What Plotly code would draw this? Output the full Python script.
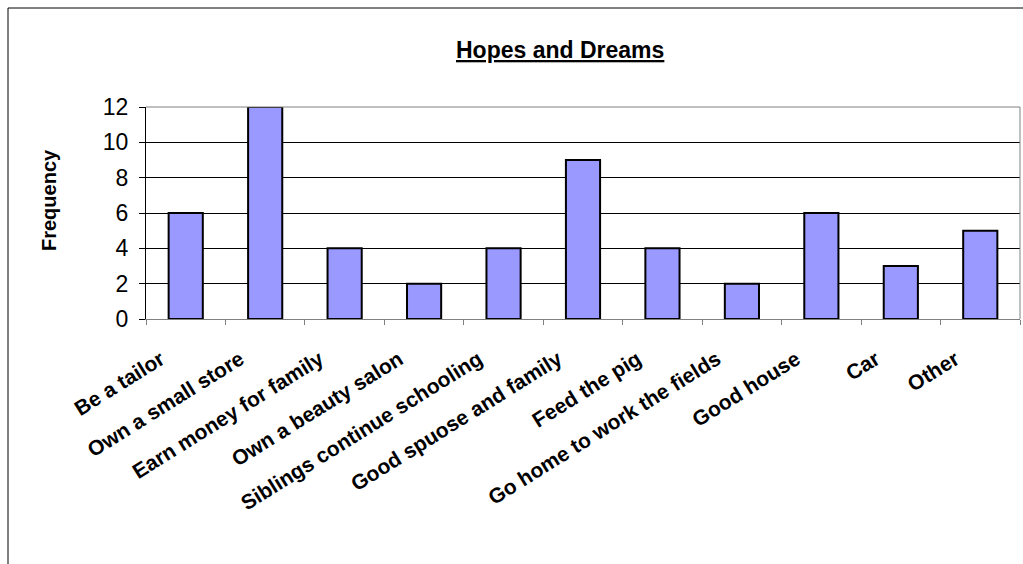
import plotly.graph_objects as go

categories = ["Be a tailor", "Own a small store", "Earn money for family",
              "Own a beauty salon", "Siblings continue schooling",
              "Good spuose and family", "Feed the pig",
              "Go home to work the fields", "Good house", "Car", "Other"]
frequency = [6, 12, 4, 2, 4, 9, 4, 2, 6, 3, 5]
y_ticks = [0, 2, 4, 6, 8, 10, 12]

FONT = "Liberation Sans, Arial, sans-serif"

fig = go.Figure()
fig.add_trace(go.Bar(
    x=categories, y=frequency,
    marker=dict(color="#9999FF", line=dict(color="#000000", width=2)),
    width=0.43,
))

fig.update_layout(
    width=1023, height=564,
    margin=dict(l=146, r=3, t=107, b=245),
    paper_bgcolor="white", plot_bgcolor="white",
    showlegend=False,
    font=dict(family=FONT, color="black"),
    xaxis=dict(
        tickangle=-32,
        tickfont=dict(family=FONT, size=21, color="black", weight="bold"),
        ticks="outside", tickson="boundaries", ticklen=5, tickcolor="#808080",
        ticklabelstandoff=19, ticklabelshift=-25,
        showline=True, linecolor="#808080", linewidth=1,
        showgrid=False, fixedrange=True,
    ),
    yaxis=dict(
        range=[0, 12], tickvals=y_ticks,
        tickfont=dict(family=FONT, size=23, color="black"),
        ticks="outside", ticklen=6, tickcolor="#000000",
        ticklabelstandoff=6,
        showline=True, linecolor="#000000", linewidth=1,
        showgrid=True, gridcolor="#000000", gridwidth=1,
        zeroline=False,
    ),
)

# plot area border (top & right, gray)
fig.add_shape(type="line", xref="paper", yref="paper", x0=0, x1=1, y0=1, y1=1,
              line=dict(color="#808080", width=1), layer="above")
fig.add_shape(type="line", xref="paper", yref="paper", x0=1, x1=1, y0=0, y1=1,
              line=dict(color="#808080", width=1), layer="above")

# outer chart frame
fig.add_shape(type="rect", xref="paper", yref="paper",
              x0=(8 - 146) / 874, x1=1.05, y0=(319 - 580) / 212, y1=(319 - 8) / 212,
              line=dict(color="#000000", width=1), layer="below")

fig.add_annotation(
    text="<b><u>Hopes and Dreams</u></b>", xref="paper", yref="paper",
    x=(560 - 146) / 874, y=(319 - 50) / 212, xanchor="center", yanchor="middle",
    showarrow=False, font=dict(family=FONT, size=23, color="black"),
)

fig.add_annotation(
    text="<b>Frequency</b>", xref="paper", yref="paper",
    x=(49 - 146) / 874, y=(319 - 200) / 212, xanchor="center", yanchor="middle",
    textangle=-90, showarrow=False, font=dict(family=FONT, size=20, color="black"),
)

fig.write_html("out.html")
